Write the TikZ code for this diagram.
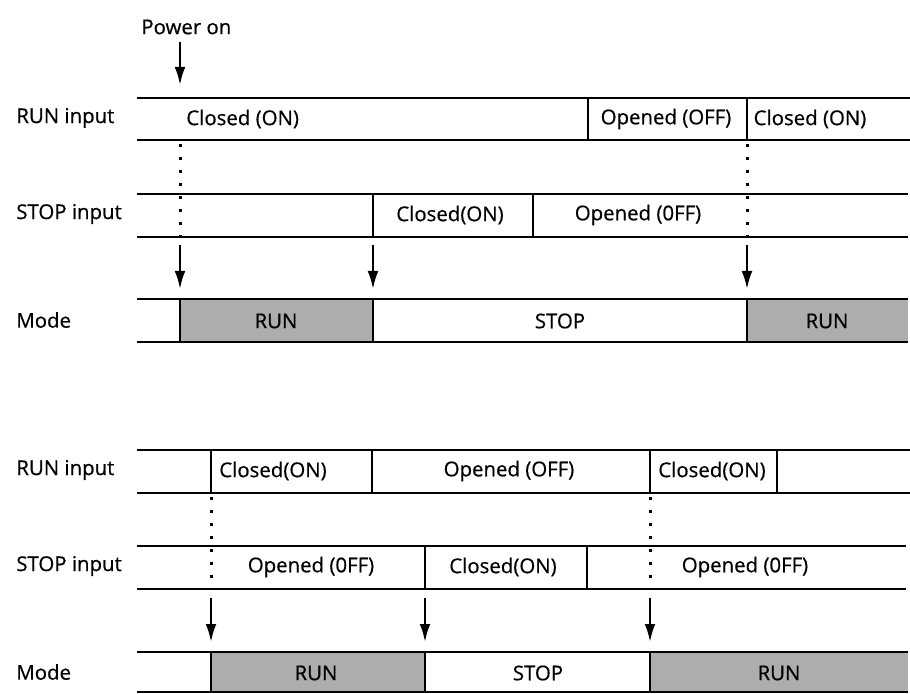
\documentclass[tikz,border=0pt]{standalone}
\usepackage{fontspec}
\setmainfont{Open Sans}[FakeBold=0.6]
\usetikzlibrary{arrows.meta}
\begin{document}
\begin{tikzpicture}[x=0.5pt,y=-0.5pt,line width=1.35pt,
  lab/.style={anchor=west,font=\fontsize{10.2}{12}\selectfont,inner sep=0pt},
  cell/.style={font=\fontsize{10.2}{12}\selectfont,inner sep=0pt},
  trig/.style={-{Latex[length=9pt,width=5.4pt]},line width=1.2pt},
  dotl/.style={line width=1.5pt,dash pattern=on 1.5pt off 5pt},
  shade/.style={fill=black!32,draw=none}]
\useasboundingbox (0,0) rectangle (910,694);
% ---------------- top block ----------------
\node[cell,anchor=west] (pwr) at (140,27) {Power on};
\coordinate (p0) at (180,42); \coordinate (p1) at (180,85);
\draw[trig] (p0) -- (p1);
% RUN input 1
\node[lab] (l1) at (15,118) {RUN input};
\draw (137,98) -- (910,98); \draw (137,140) -- (910,140);
\draw (588,98) -- (588,140); \draw (747,98) -- (747,140);
\node[cell,anchor=west] (r1a) at (185,119) {Closed (ON)};
\node[cell] (r1b) at (666,119) {Opened (OFF)};
\node[cell] (r1c) at (810,119) {Closed (ON)};
% STOP input 1
\node[lab] (l2) at (15,214) {STOP input};
\draw (137,194) -- (908,194); \draw (137,237) -- (908,237);
\draw (373,194) -- (373,237); \draw (533,194) -- (533,237);
\node[cell] (s1a) at (450,215) {Closed(ON)};
\node[cell] (s1b) at (638,215) {Opened (0FF)};
% dotted
\draw[dotl] (180,144) -- (180,236);
\draw[dotl] (747,144) -- (747,236);
% arrows
\coordinate (a1s) at (180,245); \coordinate (a1e) at (180,289);
\coordinate (a2s) at (373,245); \coordinate (a2e) at (373,289);
\coordinate (a3s) at (747,245); \coordinate (a3e) at (747,289);
\draw[trig] (a1s) -- (a1e); \draw[trig] (a2s) -- (a2e); \draw[trig] (a3s) -- (a3e);
% Mode 1
\node[lab] (l3) at (15,320) {Mode};
\fill[shade] (180,299) rectangle (373,342);
\fill[shade] (747,299) rectangle (908,342);
\draw (137,299) -- (908,299); \draw (137,342) -- (908,342);
\draw (180,299) -- (180,342); \draw (373,299) -- (373,342); \draw (747,299) -- (747,342);
\node[cell] (m1a) at (276,321) {RUN};
\node[cell] (m1b) at (560,321) {STOP};
\node[cell] (m1c) at (827,321) {RUN};
% ---------------- bottom block ----------------
\node[lab] (l4) at (15,470) {RUN input};
\draw (137,450) -- (910,450); \draw (137,493) -- (910,493);
\draw (211,450) -- (211,493); \draw (372,450) -- (372,493);
\draw (650,450) -- (650,493); \draw (777,450) -- (777,493);
\node[cell] (r2a) at (273,471) {Closed(ON)};
\node[cell] (r2b) at (509,471) {Opened (OFF)};
\node[cell] (r2c) at (712,471) {Closed(ON)};
% STOP input 2
\node[lab] (l5) at (15,566) {STOP input};
\draw (137,546) -- (906,546); \draw (137,589) -- (906,589);
\draw (425,546) -- (425,589); \draw (587,546) -- (587,589);
\node[cell] (s2a) at (311,567) {Opened (0FF)};
\node[cell] (s2b) at (503,567) {Closed(ON)};
\node[cell] (s2c) at (745,567) {Opened (0FF)};
% dotted
\draw[dotl] (211,497) -- (211,588);
\draw[dotl] (650,497) -- (650,588);
% arrows
\coordinate (b1s) at (211,598); \coordinate (b1e) at (211,642);
\coordinate (b2s) at (425,598); \coordinate (b2e) at (425,642);
\coordinate (b3s) at (650,598); \coordinate (b3e) at (650,642);
\draw[trig] (b1s) -- (b1e); \draw[trig] (b2s) -- (b2e); \draw[trig] (b3s) -- (b3e);
% Mode 2
\node[lab] (l6) at (15,672) {Mode};
\fill[shade] (211,652) rectangle (425,692);
\fill[shade] (650,652) rectangle (908,692);
\draw (137,652) -- (908,652); \draw (137,692) -- (908,692);
\draw (211,652) -- (211,692); \draw (425,652) -- (425,692); \draw (650,652) -- (650,692);
\node[cell] (m2a) at (316,673) {RUN};
\node[cell] (m2b) at (538,673) {STOP};
\node[cell] (m2c) at (779,673) {RUN};
\end{tikzpicture}
\end{document}
